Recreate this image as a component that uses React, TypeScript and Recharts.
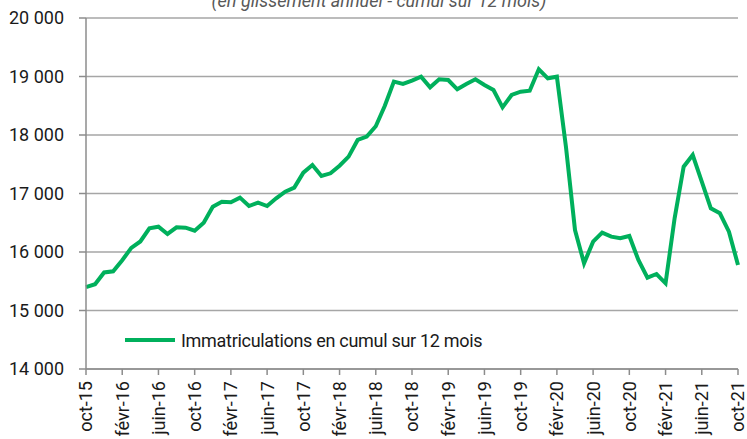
import { CartesianGrid, Line, LineChart, XAxis, YAxis } from "recharts";

const months = [
  "oct-15", "nov-15", "déc-15", "janv-16", "févr-16", "mars-16", "avr-16", "mai-16", "juin-16", "juil-16", "août-16", "sept-16",
  "oct-16", "nov-16", "déc-16", "janv-17", "févr-17", "mars-17", "avr-17", "mai-17", "juin-17", "juil-17", "août-17", "sept-17",
  "oct-17", "nov-17", "déc-17", "janv-18", "févr-18", "mars-18", "avr-18", "mai-18", "juin-18", "juil-18", "août-18", "sept-18",
  "oct-18", "nov-18", "déc-18", "janv-19", "févr-19", "mars-19", "avr-19", "mai-19", "juin-19", "juil-19", "août-19", "sept-19",
  "oct-19", "nov-19", "déc-19", "janv-20", "févr-20", "mars-20", "avr-20", "mai-20", "juin-20", "juil-20", "août-20", "sept-20",
  "oct-20", "nov-20", "déc-20", "janv-21", "févr-21", "mars-21", "avr-21", "mai-21", "juin-21", "juil-21", "août-21", "sept-21",
  "oct-21",
];

const immatriculations = [
  15400, 15450, 15650, 15670, 15860, 16070, 16180, 16405, 16433, 16308, 16422, 16416,
  16364, 16501, 16774, 16860, 16850, 16929, 16786, 16843, 16786, 16918, 17031, 17100,
  17356, 17487, 17299, 17345, 17476, 17630, 17915, 17972, 18150, 18500, 18912, 18872,
  18929, 18997, 18815, 18952, 18940, 18781, 18872, 18952, 18855, 18769, 18473, 18684,
  18741, 18758, 19123, 18969, 18997, 17800, 16376, 15807, 16176, 16330, 16262, 16234,
  16274, 15863, 15561, 15624, 15465, 16576, 17458, 17658, 17202, 16747, 16662, 16347,
  15778,
];

const yTicks = [14000, 15000, 16000, 17000, 18000, 19000, 20000];

const data = months.map((month, i) => ({ month, value: immatriculations[i] }));

const font = "Roboto, 'Liberation Sans', sans-serif";

const fmt = (v: number) => String(v).replace(/\B(?=(\d{3})+(?!\d))/g, " ");

function MonthTick({ x, y, payload }: any) {
  return (
    <text
      x={x}
      y={y}
      transform={`rotate(-90 ${x} ${y})`}
      textAnchor="end"
      dy="0.36em"
      fontSize={18}
      fontFamily={font}
      fill="#1a1a1a"
    >
      {payload.value}
    </text>
  );
}

export default function App() {
  return (
    <div style={{ position: "relative", width: 747, height: 439 }}>
      <style>{"body{margin:0}"}</style>
      <LineChart width={747} height={439} data={data} margin={{ top: 18, right: 9, bottom: 0, left: 0 }}>
        <CartesianGrid vertical={false} stroke="#a6a6a6" strokeWidth={1.5} />
        <XAxis
          dataKey="month"
          scale="point"
          interval={3}
          height={70}
          tick={<MonthTick />}
          tickSize={6}
          tickMargin={6}
          stroke="#8c8c8c"
          strokeWidth={1.5}
        />
        <YAxis
          domain={[14000, 20000]}
          ticks={yTicks}
          width={86}
          tickFormatter={fmt}
          tickSize={7}
          tickMargin={15}
          stroke="#8c8c8c"
          strokeWidth={1.5}
          tick={{ fontSize: 18, fontFamily: font, fill: "#1a1a1a" }}
        />
        <Line
          type="linear"
          dataKey="value"
          stroke="#00b05c"
          strokeWidth={4}
          dot={false}
          isAnimationActive={false}
        />
      </LineChart>
      <svg width={747} height={439} style={{ position: "absolute", left: 0, top: 0, pointerEvents: "none" }}>
        {/* title sits mostly above the top edge, as in the source image */}
        <text x={379} y={7} textAnchor="middle" fontSize={18} fontStyle="italic" fontFamily={font} fill="#595959">
          (en glissement annuel - cumul sur 12 mois)
        </text>
        <line x1={125} y1={340} x2={175} y2={340} stroke="#00b05c" strokeWidth={4} />
        <text x={181} y={346.5} fontSize={18} letterSpacing={-0.3} fontFamily={font} fill="#1a1a1a">
          Immatriculations en cumul sur 12 mois
        </text>
      </svg>
    </div>
  );
}
